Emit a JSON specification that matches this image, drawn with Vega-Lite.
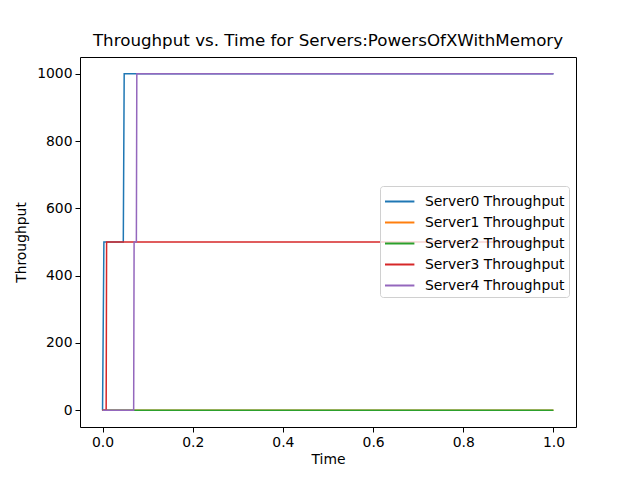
{
  "$schema": "https://vega.github.io/schema/vega-lite/v6.json",
  "width": 496,
  "height": 370,
  "autosize": {"type": "none"},
  "padding": {"left": 80, "top": 57, "right": 64, "bottom": 53},
  "background": "white",
  "title": {
    "text": "Throughput vs. Time for Servers:PowersOfXWithMemory",
    "font": "DejaVu Sans",
    "fontSize": 16.7,
    "fontWeight": "normal",
    "color": "black",
    "offset": 7
  },
  "config": {
    "view": {"stroke": "black", "strokeWidth": 1},
    "axis": {
      "grid": false,
      "domain": false,
      "tickColor": "black",
      "tickSize": 5,
      "labelFont": "DejaVu Sans",
      "labelFontSize": 13.9,
      "labelColor": "black",
      "titleFont": "DejaVu Sans",
      "titleFontSize": 13.9,
      "titleFontWeight": "normal",
      "titleColor": "black"
    }
  },
  "data": {
    "values": [
      {"series": "Server0 Throughput", "t": 0, "v": 0},
      {"series": "Server0 Throughput", "t": 0.003, "v": 500},
      {"series": "Server0 Throughput", "t": 0.046, "v": 500},
      {"series": "Server0 Throughput", "t": 0.048, "v": 1000},
      {"series": "Server0 Throughput", "t": 1.0, "v": 1000},
      {"series": "Server1 Throughput", "t": 0, "v": 0},
      {"series": "Server1 Throughput", "t": 1.0, "v": 0},
      {"series": "Server2 Throughput", "t": 0, "v": 0},
      {"series": "Server2 Throughput", "t": 1.0, "v": 0},
      {"series": "Server3 Throughput", "t": 0, "v": 0},
      {"series": "Server3 Throughput", "t": 0.008, "v": 0},
      {"series": "Server3 Throughput", "t": 0.009, "v": 500},
      {"series": "Server3 Throughput", "t": 1.0, "v": 500},
      {"series": "Server4 Throughput", "t": 0, "v": 0},
      {"series": "Server4 Throughput", "t": 0.069, "v": 0},
      {"series": "Server4 Throughput", "t": 0.070, "v": 500},
      {"series": "Server4 Throughput", "t": 0.075, "v": 500},
      {"series": "Server4 Throughput", "t": 0.076, "v": 1000},
      {"series": "Server4 Throughput", "t": 1.0, "v": 1000}
    ]
  },
  "mark": {"type": "line", "strokeWidth": 1.5, "clip": true},
  "encoding": {
    "x": {
      "field": "t",
      "type": "quantitative",
      "title": "Time",
      "scale": {"domain": [-0.05, 1.05], "nice": false, "zero": false},
      "axis": {"values": [0, 0.2, 0.4, 0.6, 0.8, 1.0], "format": ".1f", "titlePadding": 4, "labelPadding": 3}
    },
    "y": {
      "field": "v",
      "type": "quantitative",
      "title": "Throughput",
      "scale": {"domain": [-50, 1050], "nice": false, "zero": false},
      "axis": {"values": [0, 200, 400, 600, 800, 1000], "format": "d", "titlePadding": 8, "labelPadding": 3}
    },
    "color": {
      "field": "series",
      "type": "nominal",
      "scale": {
        "domain": ["Server0 Throughput", "Server1 Throughput", "Server2 Throughput", "Server3 Throughput", "Server4 Throughput"],
        "range": ["#1f77b4", "#ff7f0e", "#2ca02c", "#d62728", "#9467bd"]
      },
      "legend": {
        "title": null,
        "orient": "none",
        "legendX": 300,
        "legendY": 129,
        "symbolType": "M-1,0H1.8",
        "symbolStrokeWidth": 2,
        "symbolSize": 441,
        "labelFont": "DejaVu Sans",
        "labelFontSize": 13.9,
        "labelColor": "black",
        "labelOffset": 18,
        "rowPadding": 2,
        "padding": 4,
        "strokeColor": "#d0d0d0",
        "fillColor": "rgba(255,255,255,0.8)",
        "cornerRadius": 3
      }
    }
  }
}
